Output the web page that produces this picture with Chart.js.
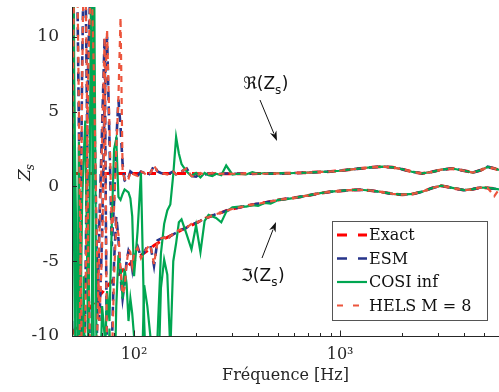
<!DOCTYPE html>
<html>
<head>
<meta charset="utf-8">
<script src="https://cdn.jsdelivr.net/npm/chart.js@4.4.1/dist/chart.umd.min.js"></script>
<style>
html, body { margin: 0; padding: 0; background: #fff; }
#wrap { width: 499px; height: 392px; position: relative; }
</style>
</head>
<body>
<div id="wrap"><canvas id="zsChart"></canvas></div>
<script>
// frequency grid (Hz)
var freq = [
    50, 51, 52, 53, 54, 55, 56, 57, 58, 59, 60,
    62, 64, 66, 68, 70, 72, 74, 76, 78, 80, 82, 84, 86, 88, 90, 92, 94, 96, 98, 100,
    104, 108, 112, 116, 120,
    125, 130, 135, 140, 145, 150, 155, 160, 165, 170,
    180, 190, 200, 210, 220, 230, 240, 250,
    265, 280, 300, 325, 350, 375, 400, 430, 460,
    500, 550, 600, 650, 700,
    800, 900, 1000, 1100, 1250, 1400, 1600, 1800, 2000,
    2250, 2500, 2800, 3100, 3500, 4000, 4400, 4800, 5200, 5600, 5900
];

var exactRe = [
    0.87, 0.87, 0.87, 0.87, 0.87, 0.87, 0.87, 0.87, 0.87, 0.87, 0.87,
    0.87, 0.87, 0.87, 0.87, 0.87, 0.87, 0.87, 0.87, 0.87, 0.87, 0.87, 0.87, 0.87, 0.87, 0.87, 0.87, 0.87, 0.87, 0.87, 0.87,
    0.87, 0.87, 0.87, 0.87, 0.87,
    0.87, 0.87, 0.87, 0.87, 0.87, 0.87, 0.87, 0.87, 0.87, 0.87,
    0.86, 0.86, 0.85, 0.85, 0.85, 0.85, 0.85, 0.85,
    0.85, 0.85, 0.85, 0.85, 0.85, 0.85, 0.86, 0.86, 0.87,
    0.87, 0.88, 0.9, 0.91, 0.93,
    0.97, 1.0, 1.05, 1.12, 1.2, 1.27, 1.33, 1.28, 1.15,
    0.97, 0.87, 0.98, 1.12, 1.2, 1.05, 0.93, 1.08, 1.3, 1.2, 1.1
];
var exactIm = [
    -9.9, -9.7, -9.5, -9.3, -9.15, -9.0, -8.85, -8.7, -8.55, -8.4, -8.25,
    -8.0, -7.75, -7.5, -7.3, -7.1, -6.9, -6.7, -6.5, -6.35, -6.2, -6.05, -5.9, -5.75, -5.6, -5.5, -5.4, -5.3, -5.15, -5.05, -4.95,
    -4.75, -4.6, -4.45, -4.3, -4.15,
    -3.95, -3.8, -3.65, -3.5, -3.4, -3.3, -3.2, -3.1, -3.0, -2.9,
    -2.75, -2.6, -2.45, -2.3, -2.15, -2.05, -1.95, -1.85,
    -1.75, -1.62, -1.5, -1.4, -1.3, -1.22, -1.15, -1.08, -1.0,
    -0.9, -0.82, -0.76, -0.68, -0.6,
    -0.45, -0.35, -0.3, -0.25, -0.22, -0.27, -0.38, -0.5, -0.55,
    -0.5, -0.35, -0.1, 0.05, -0.1, -0.25, -0.18, -0.07, -0.1, -0.15, -0.2
];

var esmRe = [
    2.3, 13, 16, 14, 4, -6, -14, -16, -8, 2, 9,
    15, 6, -5, -9, -3, 6, 10, 3, -4, -1, 3, 5.8, 4, 1.5, 0.4, 0.3, 0.6, 1.0, 0.9, 0.8,
    0.7, 1.0, 0.9, 0.7, 0.9,
    1.4, 1.0, 0.9, 0.85, 0.8, 0.9, 1.0, 0.8, 0.9, 1.0,
    1.2, 0.7, 0.65, 0.9, 0.8, 0.85, 0.9, 0.8,
    0.85, 0.87, 0.85, 0.85, 0.86, 0.85, 0.85, 0.85, 0.86,
    0.87, 0.88, 0.9, 0.91, 0.93,
    0.97, 1.0, 1.05, 1.12, 1.2, 1.27, 1.33, 1.28, 1.15,
    0.97, 0.87, 0.98, 1.12, 1.2, 1.05, 0.93, 1.08, 1.32, 1.2, 1.1
];
var esmIm = [
    -9, -15, -16, -12, -15, -4, 8, 15, 16, 6, -6,
    -15, -16, -10, -2, 4, 10, -14, -16, -11, -5, -2, -3.5, -6, -7.5, -6.5, -5, -4.3, -4.6, -5.5, -4.4,
    -4.0, -4.7, -4.4, -4.0, -3.9,
    -5.3, -3.6, -3.5, -3.4, -3.6, -3.3, -3.2, -3.1, -2.9, -2.9,
    -2.75, -2.5, -2.45, -2.3, -2.1, -2.05, -1.95, -1.85,
    -1.75, -1.62, -1.5, -1.4, -1.3, -1.22, -1.15, -1.08, -1.0,
    -0.9, -0.82, -0.76, -0.68, -0.6,
    -0.45, -0.35, -0.3, -0.25, -0.22, -0.27, -0.38, -0.5, -0.55,
    -0.5, -0.35, -0.1, 0.05, -0.1, -0.25, -0.18, -0.07, -0.1, -0.15, -0.2
];

var cosiRe = [
    13, 8, 0, -8, -15, -9, -1, 2, 4.4, -3, -12,
    15, -15, -15, -15, -15, -12, -7, -9, -2.5, 2.5, 3.2, -0.7, -0.9, -0.5, -0.2, -0.3, -0.4, -0.8, -2, -6,
    -3, 0.9, -9, -15, -15,
    -15, -10, -4.5, -2.5, -1.6, -1.2, 0.8, 3.3, 2.2, 1.5,
    1.0, 0.7, 0.9, 0.6, 0.9, 0.75, 0.7, 0.85,
    0.75, 1.4, 0.8, 0.85, 0.8, 0.95, 0.85, 0.9, 0.85,
    0.9, 0.88, 0.9, 0.91, 0.93,
    0.97, 1.0, 1.05, 1.12, 1.2, 1.27, 1.33, 1.28, 1.15,
    0.97, 0.87, 0.98, 1.12, 1.2, 1.05, 0.93, 1.08, 1.3, 1.2, 1.1
];
var cosiIm = [
    -15, 14, -15, -15, 3, -15, -15, -6, -15, -15, -15,
    -15, 15, -15, -15, -8, -10, -15, -9.5, -15, -15, -8, -4.6, -5.5, -7.5, -5.5, -6.5, -9, -7.5, -8.5, -10,
    -15, -15, -6.6, -8, -10,
    -15, -15, -6.8, -4.9, -5.9, -11, -5, -3.8, -2.4, -2.2,
    -3.2, -4.2, -2.6, -4.4, -2.3, -1.9, -2.0, -2.1,
    -2.4, -1.7, -1.4, -1.35, -1.35, -1.25, -1.3, -1.1, -1.15,
    -0.9, -0.85, -0.76, -0.68, -0.6,
    -0.45, -0.35, -0.3, -0.25, -0.22, -0.27, -0.38, -0.5, -0.55,
    -0.5, -0.35, -0.1, 0.05, -0.1, -0.25, -0.18, -0.07, -0.1, -0.15, -0.2
];

var helsRe = [
    2.0, 12, 16, 15, 5, -5, -13, -16, -9, 1, 8,
    15, 7, -4, -9, -4, 5, 10.5, 4, -3, -1.5, 2.5, 6, 11.3, 1.0, 0.5, 0.3, 0.5, 1.0, 0.9, 0.8,
    0.7, 1.0, 0.9, 0.7, 0.9,
    1.4, 1.0, 0.9, 0.85, 0.8, 0.9, 1.0, 0.8, 0.9, 1.0,
    1.2, 0.7, 0.65, 0.9, 0.8, 0.85, 0.9, 0.8,
    0.85, 0.87, 0.85, 0.85, 0.86, 0.85, 0.85, 0.85, 0.86,
    0.87, 0.88, 0.9, 0.91, 0.93,
    0.97, 1.0, 1.05, 1.12, 1.2, 1.27, 1.33, 1.28, 1.15,
    0.97, 0.87, 0.98, 1.12, 1.2, 1.05, 0.93, 1.08, 1.3, 1.2, 1.1
];
var helsIm = [
    -9.5, -15, -16, -13, -15, -5, 7, 15, 16, 7, -5,
    -15, -16, -11, -3, 3, 10, -13, -16, -12, -6, -2.5, -3.2, -5.5, -7.2, -6.8, -5.2, -4.2, -4.4, -5.3, -4.5,
    -4.1, -4.8, -4.4, -4.1, -3.9,
    -5.2, -3.7, -3.5, -3.4, -3.6, -3.3, -3.2, -3.1, -2.9, -2.9,
    -2.75, -2.5, -2.45, -2.3, -2.1, -2.05, -1.95, -1.85,
    -1.75, -1.62, -1.5, -1.4, -1.3, -1.22, -1.15, -1.08, -1.0,
    -0.9, -0.82, -0.76, -0.68, -0.6,
    -0.45, -0.35, -0.3, -0.25, -0.22, -0.27, -0.38, -0.5, -0.55,
    -0.5, -0.35, -0.1, 0.05, -0.1, -0.25, -0.18, -0.07, -0.1, -0.65, -0.2
];

var xTickValues = [60, 70, 80, 90, 100, 200, 300, 400, 500, 600, 700, 800, 900, 1000, 2000, 3000, 4000, 5000];
var xTickLabels = ['', '', '', '', '10\u00b2', '', '', '', '', '', '', '', '', '10\u00b3', '', '', '', ''];
var yTickValues = [-10, -5, 0, 5, 10];
var yTickLabels = ['-10', '-5', '0', '5', '10'];
var legendNames = ['Exact', 'ESM', 'COSI inf', 'HELS M = 8'];

function pts(ys) {
    return freq.map(function (f, i) { return {x: f, y: ys[i]}; });
}

function series(label, ys, color, width, dash, order) {
    return {
        label: label,
        data: pts(ys),
        borderColor: color,
        borderWidth: width,
        borderDash: dash,
        pointRadius: 0,
        tension: 0,
        fill: false,
        clip: 0,
        order: order
    };
}

var legendDash = {'Exact': [10, 11], 'ESM': [10, 11], 'COSI inf': [], 'HELS M = 8': [6, 10]};

// axis lines and inward ticks (matlab look)
var axesPlugin = {
    id: 'axesPlugin',
    afterDatasetsDraw: function (chart) {
        var ctx = chart.ctx;
        var a = chart.chartArea;
        var xs = chart.scales.x, ys = chart.scales.y;
        ctx.save();
        ctx.strokeStyle = '#262626';
        ctx.lineWidth = 1;
        ctx.beginPath();
        ctx.moveTo(a.left + 0.5, a.top);
        ctx.lineTo(a.left + 0.5, a.bottom + 0.5);
        ctx.lineTo(a.right, a.bottom + 0.5);
        ctx.stroke();
        ctx.beginPath();
        ys.ticks.forEach(function (t) {
            var y = Math.round(ys.getPixelForValue(t.value)) + 0.5;
            ctx.moveTo(a.left, y);
            ctx.lineTo(a.left + 5, y);
        });
        xs.ticks.forEach(function (t) {
            var x = Math.round(xs.getPixelForValue(t.value)) + 0.5;
            var len = t.label ? 5.5 : 3;
            ctx.moveTo(x, a.bottom);
            ctx.lineTo(x, a.bottom - len);
        });
        ctx.stroke();
        ctx.restore();
    }
};

var legendPlugin = {
    id: 'boxLegend',
    afterDraw: function (chart) {
        var ctx = chart.ctx;
        ctx.save();
        ctx.fillStyle = '#ffffff';
        ctx.fillRect(332.5, 221.5, 155, 99);
        ctx.strokeStyle = '#555555';
        ctx.lineWidth = 1;
        ctx.strokeRect(332.5, 221.5, 155, 99);
        legendNames.forEach(function (name, i) {
            var ds = chart.data.datasets.filter(function (d) { return d.label === name; })[0];
            var y = 235 + i * 23.5;
            ctx.beginPath();
            ctx.setLineDash(legendDash[name]);
            ctx.strokeStyle = ds.borderColor;
            ctx.lineWidth = ds.borderWidth;
            ctx.moveTo(337, y);
            ctx.lineTo(367, y);
            ctx.stroke();
            ctx.setLineDash([]);
            ctx.fillStyle = '#111111';
            ctx.font = '16px "DejaVu Serif"';
            ctx.textBaseline = 'middle';
            ctx.textAlign = 'left';
            ctx.fillText(name, 369, y + 1);
        });
        ctx.restore();
    }
};

function arrow(ctx, x0, y0, x1, y1) {
    var ang = Math.atan2(y1 - y0, x1 - x0);
    var hl = 10, hw = 3.5;
    ctx.beginPath();
    ctx.moveTo(x0, y0);
    ctx.lineTo(x1 - Math.cos(ang) * hl * 0.8, y1 - Math.sin(ang) * hl * 0.8);
    ctx.stroke();
    ctx.beginPath();
    ctx.moveTo(x1, y1);
    ctx.lineTo(x1 - Math.cos(ang) * hl - Math.sin(ang) * hw, y1 - Math.sin(ang) * hl + Math.cos(ang) * hw);
    ctx.lineTo(x1 - Math.cos(ang) * hl * 0.7, y1 - Math.sin(ang) * hl * 0.7);
    ctx.lineTo(x1 - Math.cos(ang) * hl + Math.sin(ang) * hw, y1 - Math.sin(ang) * hl - Math.cos(ang) * hw);
    ctx.closePath();
    ctx.fill();
}

function partLabel(ctx, sym, x, y) {
    ctx.font = '17px "DejaVu Sans"';
    ctx.textBaseline = 'alphabetic';
    ctx.textAlign = 'left';
    var head = sym + '(Z';
    ctx.fillText(head, x, y);
    var w = ctx.measureText(head).width;
    ctx.font = '12px "DejaVu Sans"';
    ctx.fillText('s', x + w, y + 5);
    var ws = ctx.measureText('s').width;
    ctx.font = '17px "DejaVu Sans"';
    ctx.fillText(')', x + w + ws + 0.5, y);
}

var notesPlugin = {
    id: 'notes',
    afterDraw: function (chart) {
        var ctx = chart.ctx;
        ctx.save();
        ctx.fillStyle = '#111111';
        ctx.strokeStyle = '#111111';
        ctx.lineWidth = 1;
        partLabel(ctx, '\u211c', 243, 89);
        arrow(ctx, 260, 100, 277, 141);
        partLabel(ctx, '\u2111', 241, 281);
        arrow(ctx, 262, 258, 276, 222);

        // y axis title: Z_s
        ctx.translate(30, 181);
        ctx.rotate(-Math.PI / 2);
        ctx.font = 'italic 17px "DejaVu Serif"';
        ctx.fillStyle = '#262626';
        ctx.textBaseline = 'alphabetic';
        ctx.fillText('Z', 0, 0);
        var zw = ctx.measureText('Z').width;
        ctx.font = 'italic 12px "DejaVu Serif"';
        ctx.fillText('s', zw - 1, 4);
        ctx.restore();
    }
};

var ctx = document.getElementById('zsChart');

var config = {
    type: 'line',
    data: {
        datasets: [
            series('Exact', exactRe, '#ff0000', 3, [9, 6], 4),
            series('Exact', exactIm, '#ff0000', 3, [9, 6], 4),
            series('ESM', esmRe, '#27348b', 2.6, [9, 6], 3),
            series('ESM', esmIm, '#27348b', 2.6, [9, 6], 3),
            series('COSI inf', cosiRe, '#00a651', 2.2, [], 2),
            series('COSI inf', cosiIm, '#00a651', 2.2, [], 2),
            series('HELS M = 8', helsRe, '#ec553d', 2.2, [6, 5], 1),
            series('HELS M = 8', helsIm, '#ec553d', 2.2, [6, 5], 1)
        ]
    },
    options: {
        responsive: true,
        maintainAspectRatio: false,
        animation: false,
        layout: {padding: {top: 7, right: 0, left: 0, bottom: 0}},
        plugins: {
            legend: {display: false},
            tooltip: {enabled: false}
        },
        scales: {
            x: {
                type: 'logarithmic',
                min: 50,
                max: 5900,
                afterBuildTicks: function (s) {
                    s.ticks = xTickValues.map(function (v) { return {value: v}; });
                },
                afterFit: function (s) {
                    s.height = 56;
                    s.paddingLeft = 0;
                    s.paddingRight = 0;
                },
                grid: {display: false},
                border: {display: false},
                ticks: {
                    autoSkip: false,
                    maxRotation: 0,
                    padding: 1,
                    color: '#262626',
                    font: {family: 'DejaVu Serif', size: 16},
                    callback: function (v, i) { return xTickLabels[i]; }
                },
                title: {
                    display: true,
                    text: 'Fréquence [Hz]',
                    color: '#262626',
                    font: {family: 'DejaVu Serif', size: 16},
                    padding: {top: 0, bottom: 7}
                }
            },
            y: {
                min: -10,
                max: 12,
                afterBuildTicks: function (s) {
                    s.ticks = yTickValues.map(function (v) { return {value: v}; });
                },
                afterFit: function (s) {
                    s.width = 72;
                    s.paddingTop = 0;
                    s.paddingBottom = 0;
                },
                grid: {display: false},
                border: {display: false},
                ticks: {
                    padding: 5,
                    color: '#262626',
                    font: {family: 'DejaVu Serif', size: 17},
                    callback: function (v, i) { return yTickLabels[i]; }
                }
            }
        }
    },
    plugins: [axesPlugin, legendPlugin, notesPlugin]
};

var zsChart = new Chart(ctx, config);
</script>
</body>
</html>
